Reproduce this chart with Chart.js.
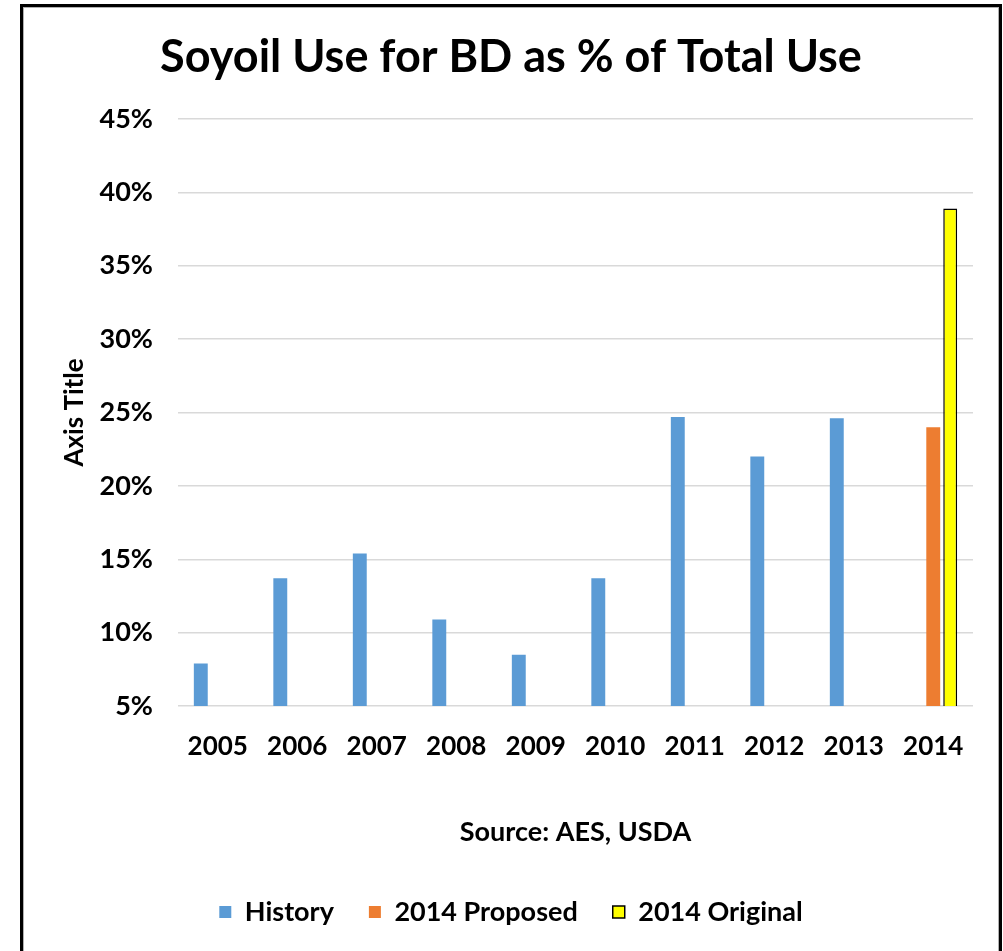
<!DOCTYPE html>
<html>
<head>
<meta charset="utf-8">
<script src="https://cdn.jsdelivr.net/npm/chart.js@4.4.1/dist/chart.umd.min.js"></script>
<style>
  html, body { margin: 0; padding: 0; background: #fff; width: 1003px; height: 951px; overflow: hidden; }
  #frame { position: absolute; left: 20px; top: 4px; width: 976px; height: 960px;
           border-left: 3px solid #000; border-top: 3px solid #000; border-right: 3px solid #000;
           box-shadow: inset 1px 1px 0 #b0b0b0, inset -1px 0 0 #b0b0b0; }
  #wrap { position: absolute; left: 0; top: 0; width: 976px; height: 944px; }
</style>
</head>
<body>
<div id="frame"><div id="wrap"><canvas id="c" width="976" height="944"></canvas></div></div>
<script>
const categories = ['2005','2006','2007','2008','2009','2010','2011','2012','2013','2014'];
const historyValues  = [7.9, 13.7, 15.4, 10.9, 8.5, 13.7, 24.7, 22.0, 24.6, null];
const proposedValues = [null, null, null, null, null, null, null, null, null, 24.0];
const originalValues = [null, null, null, null, null, null, null, null, null, 38.9];
const yTicks = [5, 10, 15, 20, 25, 30, 35, 40, 45];

const FONT = 'Lato, "Open Sans", sans-serif';
Chart.defaults.font.family = FONT;
Chart.defaults.color = '#000';

new Chart(document.getElementById('c'), {
  type: 'bar',
  data: {
    labels: categories,
    datasets: [
      { label: 'History', data: historyValues, backgroundColor: '#5B9BD5', borderWidth: 0 },
      { label: '2014 Proposed', data: proposedValues, backgroundColor: '#ED7D31', borderWidth: 0 },
      { label: '2014 Original', data: originalValues, backgroundColor: '#FFFF00', borderColor: '#000', borderWidth: 1.5 }
    ]
  },
  options: {
    responsive: false,
    animation: false,
    categoryPercentage: 0.64,
    barPercentage: 0.82,
    layout: { padding: { left: 26, right: 26, top: 0, bottom: 15.5 } },
    plugins: {
      title: {
        display: true,
        text: 'Soyoil Use for BD as % of Total Use',
        font: { size: 45, weight: 'bold', family: FONT },
        color: '#000',
        padding: { top: 23, bottom: 35 }
      },
      legend: {
        position: 'bottom',
        labels: {
          boxWidth: 12, boxHeight: 12,
          padding: 35,
          font: { size: 27, weight: 'bold', family: FONT },
          color: '#000'
        }
      },
      tooltip: { enabled: false }
    },
    scales: {
      x: {
        grid: { display: false, drawTicks: false },
        border: { display: false },
        ticks: { padding: 25, font: { size: 26, weight: 'bold', family: FONT }, color: '#000' },
        title: {
          display: true, text: 'Source: AES, USDA',
          font: { size: 27, weight: 'bold', family: FONT }, color: '#000',
          padding: { top: 0, bottom: 15.3 }
        },
        afterFit: (s) => { s.height = 157.5; }
      },
      y: {
        min: 5, max: 45,
        afterBuildTicks: (s) => { s.ticks = yTicks.map(v => ({ value: v })); },
        grid: { color: '#D9D9D9', lineWidth: 1.5, drawTicks: false },
        border: { display: false },
        ticks: {
          padding: 25,
          font: { size: 27, weight: 'bold', family: FONT }, color: '#000',
          callback: (v) => v + '%'
        },
        title: {
          display: true, text: 'Axis Title',
          font: { size: 26, weight: 'bold', family: FONT }, color: '#000',
          padding: { top: 10.4, bottom: 0 }
        },
        afterFit: (s) => { s.width = 129; }
      }
    }
  }
});
</script>
</body>
</html>
